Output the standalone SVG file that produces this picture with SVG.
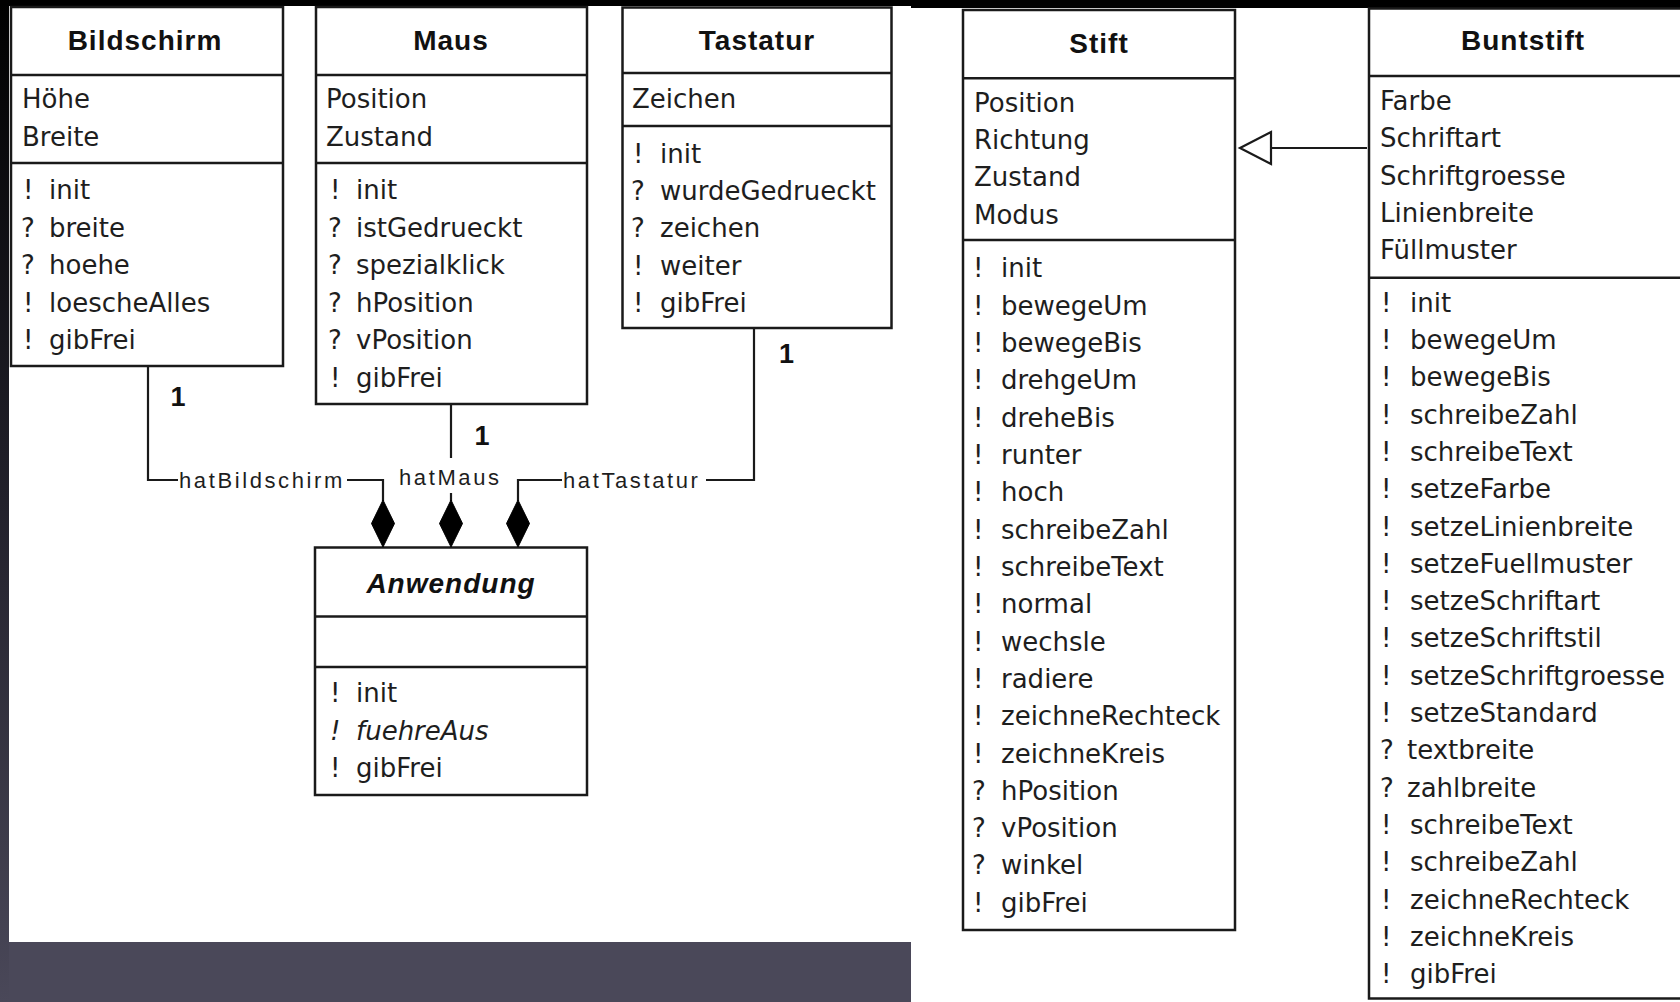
<svg xmlns="http://www.w3.org/2000/svg" width="1680" height="1002" viewBox="0 0 1680 1002">
<defs>
<linearGradient id="leftStrip" x1="0" y1="0" x2="0" y2="1">
<stop offset="0" stop-color="#000000"/>
<stop offset="0.5" stop-color="#22212b"/>
<stop offset="1" stop-color="#4a4859"/>
</linearGradient>
<style>
.box{fill:#ffffff;stroke:#1a1a1a;stroke-width:2.5}
.sep{stroke:#1a1a1a;stroke-width:2.5}
.title{font-family:"Liberation Sans",Arial,sans-serif;font-weight:bold;font-size:28px;letter-spacing:1px;fill:#111;text-anchor:middle}
.t{font-family:"DejaVu Sans",Verdana,sans-serif;font-size:26px;fill:#1e1e1e}
.lbl{font-family:"Liberation Sans",Arial,sans-serif;font-size:22px;letter-spacing:2.6px;fill:#1e1e1e}
.mult{font-family:"Liberation Sans",Arial,sans-serif;font-weight:bold;font-size:27px;fill:#111;text-anchor:middle}
.ln{fill:none;stroke:#1a1a1a;stroke-width:2.2}
.dia{fill:#000;stroke:#000;stroke-width:1}
.it{font-style:italic}
</style>
</defs>

<!-- background -->
<rect x="0" y="0" width="1680" height="1002" fill="#4a4859"/>
<rect x="0" y="0" width="9" height="1002" fill="url(#leftStrip)"/>
<rect x="0" y="0" width="1680" height="6" fill="#000"/>
<rect x="9" y="6" width="902" height="936" fill="#ffffff"/>
<rect x="911" y="8" width="769" height="994" fill="#ffffff"/>
<rect x="911" y="5" width="769" height="3" fill="#000"/>

<!-- Bildschirm -->
<g id="bildschirm">
<rect class="box" x="11" y="7" width="272" height="359"/>
<line class="sep" x1="11" y1="75" x2="283" y2="75"/>
<line class="sep" x1="11" y1="163" x2="283" y2="163"/>
<text class="title" x="145" y="50">Bildschirm</text>
<text class="t" x="22" y="108">Höhe</text>
<text class="t" x="22" y="145.5">Breite</text>
<text class="t" x="23" y="199">!</text><text class="t" x="49" y="199">init</text>
<text class="t" x="21" y="236.5">?</text><text class="t" x="49" y="236.5">breite</text>
<text class="t" x="21" y="274">?</text><text class="t" x="49" y="274">hoehe</text>
<text class="t" x="23" y="311.5">!</text><text class="t" x="49" y="311.5">loescheAlles</text>
<text class="t" x="23" y="349">!</text><text class="t" x="49" y="349">gibFrei</text>
</g>

<!-- Maus -->
<g id="maus">
<rect class="box" x="316" y="7" width="271" height="397"/>
<line class="sep" x1="316" y1="75" x2="587" y2="75"/>
<line class="sep" x1="316" y1="163" x2="587" y2="163"/>
<text class="title" x="451" y="50">Maus</text>
<text class="t" x="326" y="108">Position</text>
<text class="t" x="326" y="145.5">Zustand</text>
<text class="t" x="330" y="199">!</text><text class="t" x="356" y="199">init</text>
<text class="t" x="328" y="236.5">?</text><text class="t" x="356" y="236.5">istGedrueckt</text>
<text class="t" x="328" y="274">?</text><text class="t" x="356" y="274">spezialklick</text>
<text class="t" x="328" y="311.5">?</text><text class="t" x="356" y="311.5">hPosition</text>
<text class="t" x="328" y="349">?</text><text class="t" x="356" y="349">vPosition</text>
<text class="t" x="330" y="386.5">!</text><text class="t" x="356" y="386.5">gibFrei</text>
</g>

<!-- Tastatur -->
<g id="tastatur">
<rect class="box" x="622.5" y="7.5" width="269" height="320.5"/>
<line class="sep" x1="622.5" y1="73" x2="891.5" y2="73"/>
<line class="sep" x1="622.5" y1="126" x2="891.5" y2="126"/>
<text class="title" x="757" y="50">Tastatur</text>
<text class="t" x="632" y="108">Zeichen</text>
<text class="t" x="633" y="162.7">!</text><text class="t" x="660" y="162.7">init</text>
<text class="t" x="631" y="200">?</text><text class="t" x="660" y="200">wurdeGedrueckt</text>
<text class="t" x="631" y="237.3">?</text><text class="t" x="660" y="237.3">zeichen</text>
<text class="t" x="633" y="274.6">!</text><text class="t" x="660" y="274.6">weiter</text>
<text class="t" x="633" y="311.9">!</text><text class="t" x="660" y="311.9">gibFrei</text>
</g>

<!-- Anwendung -->
<g id="anwendung">
<rect class="box" x="315" y="547.5" width="272" height="247.5"/>
<line class="sep" x1="315" y1="616.5" x2="587" y2="616.5"/>
<line class="sep" x1="315" y1="667" x2="587" y2="667"/>
<text class="title it" x="451" y="593">Anwendung</text>
<text class="t" x="330" y="702">!</text><text class="t" x="356" y="702">init</text>
<text class="t it" x="330" y="739.5">!</text><text class="t it" x="356" y="739.5">fuehreAus</text>
<text class="t" x="330" y="776.8">!</text><text class="t" x="356" y="776.8">gibFrei</text>
</g>

<!-- Stift -->
<g id="stift">
<rect class="box" x="963" y="10" width="272" height="920"/>
<line class="sep" x1="963" y1="78.3" x2="1235" y2="78.3"/>
<line class="sep" x1="963" y1="240" x2="1235" y2="240"/>
<text class="title" x="1099" y="52.7">Stift</text>
<text class="t" x="974" y="111.7">Position</text>
<text class="t" x="974" y="149">Richtung</text>
<text class="t" x="974" y="186.3">Zustand</text>
<text class="t" x="974" y="223.6">Modus</text>
<text class="t" x="973" y="277.3">!</text><text class="t" x="1001" y="277.3">init</text>
<text class="t" x="973" y="314.6">!</text><text class="t" x="1001" y="314.6">bewegeUm</text>
<text class="t" x="973" y="351.9">!</text><text class="t" x="1001" y="351.9">bewegeBis</text>
<text class="t" x="973" y="389.3">!</text><text class="t" x="1001" y="389.3">drehgeUm</text>
<text class="t" x="973" y="426.6">!</text><text class="t" x="1001" y="426.6">dreheBis</text>
<text class="t" x="973" y="463.9">!</text><text class="t" x="1001" y="463.9">runter</text>
<text class="t" x="973" y="501.2">!</text><text class="t" x="1001" y="501.2">hoch</text>
<text class="t" x="973" y="538.5">!</text><text class="t" x="1001" y="538.5">schreibeZahl</text>
<text class="t" x="973" y="575.9">!</text><text class="t" x="1001" y="575.9">schreibeText</text>
<text class="t" x="973" y="613.2">!</text><text class="t" x="1001" y="613.2">normal</text>
<text class="t" x="973" y="650.5">!</text><text class="t" x="1001" y="650.5">wechsle</text>
<text class="t" x="973" y="687.8">!</text><text class="t" x="1001" y="687.8">radiere</text>
<text class="t" x="973" y="725.1">!</text><text class="t" x="1001" y="725.1">zeichneRechteck</text>
<text class="t" x="973" y="762.5">!</text><text class="t" x="1001" y="762.5">zeichneKreis</text>
<text class="t" x="972" y="799.8">?</text><text class="t" x="1001" y="799.8">hPosition</text>
<text class="t" x="972" y="837.1">?</text><text class="t" x="1001" y="837.1">vPosition</text>
<text class="t" x="972" y="874.4">?</text><text class="t" x="1001" y="874.4">winkel</text>
<text class="t" x="973" y="911.7">!</text><text class="t" x="1001" y="911.7">gibFrei</text>
</g>

<!-- Buntstift -->
<g id="buntstift">
<rect class="box" x="1369" y="8.5" width="316" height="990"/>
<line class="sep" x1="1369" y1="76" x2="1685" y2="76"/>
<line class="sep" x1="1369" y1="277.7" x2="1685" y2="277.7"/>
<text class="title" x="1523" y="50">Buntstift</text>
<text class="t" x="1380" y="110">Farbe</text>
<text class="t" x="1380" y="147.3">Schriftart</text>
<text class="t" x="1380" y="184.6">Schriftgroesse</text>
<text class="t" x="1380" y="221.9">Linienbreite</text>
<text class="t" x="1380" y="259.2">Füllmuster</text>
<text class="t" x="1381" y="311.7">!</text><text class="t" x="1410" y="311.7">init</text>
<text class="t" x="1381" y="349">!</text><text class="t" x="1410" y="349">bewegeUm</text>
<text class="t" x="1381" y="386.3">!</text><text class="t" x="1410" y="386.3">bewegeBis</text>
<text class="t" x="1381" y="423.6">!</text><text class="t" x="1410" y="423.6">schreibeZahl</text>
<text class="t" x="1381" y="460.9">!</text><text class="t" x="1410" y="460.9">schreibeText</text>
<text class="t" x="1381" y="498.2">!</text><text class="t" x="1410" y="498.2">setzeFarbe</text>
<text class="t" x="1381" y="535.5">!</text><text class="t" x="1410" y="535.5">setzeLinienbreite</text>
<text class="t" x="1381" y="572.8">!</text><text class="t" x="1410" y="572.8">setzeFuellmuster</text>
<text class="t" x="1381" y="610.1">!</text><text class="t" x="1410" y="610.1">setzeSchriftart</text>
<text class="t" x="1381" y="647.4">!</text><text class="t" x="1410" y="647.4">setzeSchriftstil</text>
<text class="t" x="1381" y="684.7">!</text><text class="t" x="1410" y="684.7">setzeSchriftgroesse</text>
<text class="t" x="1381" y="722">!</text><text class="t" x="1410" y="722">setzeStandard</text>
<text class="t" x="1380" y="759.3">?</text><text class="t" x="1407" y="759.3">textbreite</text>
<text class="t" x="1380" y="796.6">?</text><text class="t" x="1407" y="796.6">zahlbreite</text>
<text class="t" x="1381" y="833.9">!</text><text class="t" x="1410" y="833.9">schreibeText</text>
<text class="t" x="1381" y="871.2">!</text><text class="t" x="1410" y="871.2">schreibeZahl</text>
<text class="t" x="1381" y="908.5">!</text><text class="t" x="1410" y="908.5">zeichneRechteck</text>
<text class="t" x="1381" y="945.8">!</text><text class="t" x="1410" y="945.8">zeichneKreis</text>
<text class="t" x="1381" y="983.1">!</text><text class="t" x="1410" y="983.1">gibFrei</text>
</g>

<!-- connectors -->
<g id="connectors">
<polyline class="ln" points="148,366 148,480 178,480"/>
<polyline class="ln" points="347,480 383,480 383,501"/>
<polygon class="dia" points="383,500 394.5,523.5 383,547 371.5,523.5"/>
<text class="lbl" x="179" y="487.5">hatBildschirm</text>
<text class="mult" x="178" y="406">1</text>

<line class="ln" x1="451" y1="404" x2="451" y2="458"/>
<line class="ln" x1="451" y1="493" x2="451" y2="501"/>
<polygon class="dia" points="451,500 462.5,523.5 451,547 439.5,523.5"/>
<text class="lbl" x="399" y="484.5">hatMaus</text>
<text class="mult" x="482" y="445">1</text>

<polyline class="ln" points="754,328 754,480 706,480"/>
<polyline class="ln" points="562,480 518,480 518,501"/>
<polygon class="dia" points="518,500 529.5,523.5 518,547 506.5,523.5"/>
<text class="lbl" x="563" y="487.5">hatTastatur</text>
<text class="mult" x="786.5" y="362.5">1</text>

<line class="ln" x1="1271" y1="148" x2="1367" y2="148"/>
<polygon points="1240,148 1271,132 1271,164" fill="#fff" stroke="#1a1a1a" stroke-width="2.2"/>
</g>
</svg>
